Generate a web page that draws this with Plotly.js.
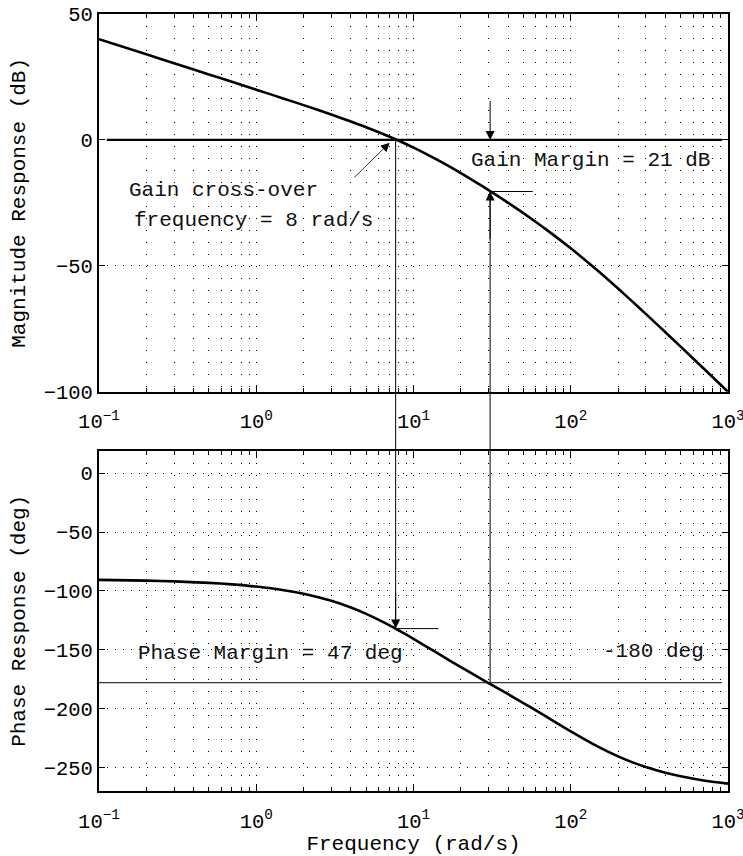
<!DOCTYPE html>
<html>
<head>
<meta charset="utf-8">
<script src="https://cdn.plot.ly/plotly-3.0.1.min.js"></script>
<style>html,body{margin:0;padding:0;background:#fff;}#chart{width:743px;height:856px;}</style>
</head>
<body>
<div id="chart"></div>
<script>
// ---- data ----
const freq = [0.1, 0.2, 0.3, 0.5, 0.7, 1, 1.5, 2, 3, 4, 5, 7, 8, 10, 12, 15, 20, 25, 30, 40, 50, 60, 70, 100, 150, 200, 250, 300, 400, 500, 700, 1000];
const magDb = [40.0, 33.98, 30.45, 26.01, 23.08, 19.96, 16.38, 13.81, 10.08, 7.31, 5.04, 1.35, -0.24, -3.05, -5.52, -8.74, -13.18, -16.83, -19.92, -24.99, -29.10, -32.58, -35.62, -43.05, -52.18, -59.04, -64.53, -69.09, -76.39, -82.11, -90.79, -100.04];
const phaseDeg = [-90.63, -91.26, -91.89, -93.15, -94.40, -96.28, -99.39, -102.46, -108.42, -114.09, -119.43, -128.99, -133.23, -140.71, -147.03, -154.84, -164.74, -172.24, -178.27, -187.76, -195.26, -201.50, -206.86, -219.29, -232.50, -240.57, -245.91, -249.66, -254.53, -257.54, -261.05, -263.72];

const xTickVals = [0.1, 1, 10, 100, 1000];
const xTickText = ['10<sup>\u22121</sup>', '10<sup>0</sup>', '10<sup>1</sup>', '10<sup>2</sup>', '10<sup>3</sup>'];
const xMinorVals = [0.2,0.3,0.4,0.5,0.6,0.7,0.8,0.9, 2,3,4,5,6,7,8,9, 20,30,40,50,60,70,80,90, 200,300,400,500,600,700,800,900];
const magTickVals = [50, 0, -50, -100];
const magTickText = ['50', '0', '\u221250', '\u2212100'];
const phaseTickVals = [0, -50, -100, -150, -200, -250];
const phaseTickText = ['0', '\u221250', '\u2212100', '\u2212150', '\u2212200', '\u2212250'];

// margin markers
const gainCrossFreq = 7.7;      // rad/s
const phaseCrossFreq = 30.7;    // rad/s
const phaseAtGainCross = -132;  // deg
const magAtPhaseCross = -20.5;  // dB
const refPhase = -178;          // the "-180 deg" line as drawn
const gmArrowTop = 16;          // dB
const refLineStart = 0.112, refLineEnd = 915, pmTickEnd = 14.4, gmTickEnd = 57.3;

// ---- layout constants ----
const FONT = 'Liberation Mono, DejaVu Sans Mono, monospace';
const topDomain = [0.5139, 1], botDomain = [0, 0.438];
const magRange = [-100, 50], phaseRange = [-270, 19.2];
function paperY(domain, range, v) {
  return domain[0] + (v - range[0]) / (range[1] - range[0]) * (domain[1] - domain[0]);
}
const L = Math.log10;

const curveLine = {color: '#000', width: 2.6};
const thin = {color: '#000', width: 1};

const traces = [
  {x: freq, y: magDb, xaxis: 'x', yaxis: 'y', mode: 'lines', line: Object.assign({shape: 'spline', smoothing: 0.6}, curveLine), hoverinfo: 'skip'},
  {x: freq, y: phaseDeg, xaxis: 'x2', yaxis: 'y2', mode: 'lines', line: Object.assign({shape: 'spline', smoothing: 0.6}, curveLine), hoverinfo: 'skip'},
  {x: [refLineStart, refLineEnd], y: [0, 0], xaxis: 'x', yaxis: 'y', mode: 'lines', line: {color: '#000', width: 2.2}, hoverinfo: 'skip'},
  {x: [phaseCrossFreq, gmTickEnd], y: [magAtPhaseCross, magAtPhaseCross], xaxis: 'x', yaxis: 'y', mode: 'lines', line: thin, hoverinfo: 'skip'},
  {x: [0.1, refLineEnd], y: [refPhase, refPhase], xaxis: 'x2', yaxis: 'y2', mode: 'lines', line: thin, hoverinfo: 'skip'},
  {x: [gainCrossFreq, pmTickEnd], y: [phaseAtGainCross, phaseAtGainCross], xaxis: 'x2', yaxis: 'y2', mode: 'lines', line: thin, hoverinfo: 'skip'}
];

const shapes = [
  {type: 'line', xref: 'x', yref: 'paper', x0: gainCrossFreq, x1: gainCrossFreq,
   y0: paperY(topDomain, magRange, 0), y1: paperY(botDomain, phaseRange, phaseAtGainCross), line: thin},
  {type: 'line', xref: 'x', yref: 'paper', x0: phaseCrossFreq, x1: phaseCrossFreq,
   y0: paperY(botDomain, phaseRange, refPhase), y1: paperY(topDomain, magRange, magAtPhaseCross), line: thin}
];

const arrowBase = {text: '', showarrow: true, arrowhead: 2, arrowsize: 1.8, arrowwidth: 1, arrowcolor: '#000'};
const textFont = {family: FONT, size: 21, color: '#111'};
function label(txt, xref, yref, f, y) {
  return {text: txt, xref: xref, yref: yref, x: L(f), y: y, xanchor: 'left', yanchor: 'middle', showarrow: false, font: textFont, borderpad: 0};
}
const annotations = [
  Object.assign({}, arrowBase, {xref: 'x', yref: 'y', axref: 'x', ayref: 'y', x: L(phaseCrossFreq), y: 0, ax: L(phaseCrossFreq), ay: gmArrowTop}),
  Object.assign({}, arrowBase, {xref: 'x', yref: 'y', axref: 'x', ayref: 'y', x: L(phaseCrossFreq), y: magAtPhaseCross, ax: L(phaseCrossFreq), ay: -40}),
  Object.assign({}, arrowBase, {xref: 'x2', yref: 'y2', axref: 'x2', ayref: 'y2', x: L(gainCrossFreq), y: phaseAtGainCross, ax: L(gainCrossFreq), ay: -100}),
  Object.assign({}, arrowBase, {xref: 'x', yref: 'y', axref: 'x', ayref: 'y', x: L(7.05), y: -1.1, ax: L(4.11), ay: -15.5, arrowwidth: 0.8, arrowsize: 2.2}),
  label('Gain cross-over', 'x', 'y', 0.1529, -20.1),
  label('frequency = 8 rad/s', 'x', 'y', 0.1652, -32.0),
  label('Gain Margin = 21 dB', 'x', 'y', 22.9, -8.2),
  label('Phase Margin = 47 deg', 'x2', 'y2', 0.1738, -153),
  label('-180 deg', 'x2', 'y2', 157.8, -151.7)
];

function xAxis(anchor, withTitle) {
  const a = {
    anchor: anchor, type: 'log', range: [-1, 3], domain: [0, 1],
    tickmode: 'array', tickvals: xTickVals, ticktext: xTickText,
    ticks: 'inside', ticklen: 7, tickwidth: 1, tickcolor: '#000',
    ticklabeloverflow: 'allow', ticklabelstandoff: 10,
    showline: true, linewidth: 2, linecolor: '#000', mirror: 'ticks',
    showgrid: true, gridcolor: '#000', gridwidth: 1, griddash: '1px,11px',
    zeroline: false,
    tickfont: {family: FONT, size: 20.5, color: '#000'},
    minor: {tickmode: 'array', tickvals: xMinorVals, ticks: 'inside', ticklen: 4, tickwidth: 1, tickcolor: '#000',
            showgrid: true, gridcolor: '#000', gridwidth: 1, griddash: '1px,11px'}
  };
  if (withTitle) a.title = {text: 'Frequency (rad/s)', font: {family: FONT, size: 21, color: '#000'}, standoff: 3};
  return a;
}
function yAxis(anchor, domain, range, tv, tt, title) {
  return {
    anchor: anchor, domain: domain, range: range,
    tickmode: 'array', tickvals: tv, ticktext: tt,
    ticks: 'inside', ticklen: 6, tickwidth: 1, tickcolor: '#000',
    ticklabeloverflow: 'allow',
    showline: true, linewidth: 2, linecolor: '#000', mirror: 'ticks',
    showgrid: true, gridcolor: '#000', gridwidth: 1, griddash: '1px,7px',
    zeroline: false,
    tickfont: {family: FONT, size: 20.5, color: '#000'},
    title: {text: title, font: {family: FONT, size: 21, color: '#000'}, standoff: 12}
  };
}

const layout = {
  width: 743, height: 856,
  margin: {l: 99, r: 15, t: 14, b: 65},
  paper_bgcolor: '#fff', plot_bgcolor: '#fff',
  showlegend: false,
  font: {family: FONT, color: '#000'},
  xaxis: xAxis('y', false),
  yaxis: yAxis('x', topDomain, magRange, magTickVals, magTickText, 'Magnitude Response (dB)'),
  xaxis2: xAxis('y2', true),
  yaxis2: yAxis('x2', botDomain, phaseRange, phaseTickVals, phaseTickText, 'Phase Response (deg)'),
  shapes: shapes,
  annotations: annotations
};

Plotly.newPlot('chart', traces, layout, {staticPlot: true, displayModeBar: false});
</script>
</body>
</html>
